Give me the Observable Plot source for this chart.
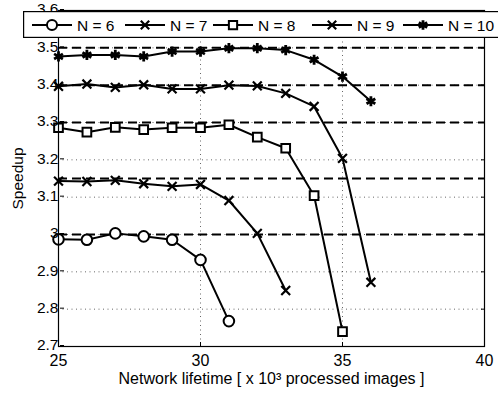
<!DOCTYPE html>
<html>
<head>
<meta charset="utf-8">
<script src="https://cdn.jsdelivr.net/npm/d3@7"></script>
<script src="https://cdn.jsdelivr.net/npm/@observablehq/plot@0.6"></script>
<style>
  html, body { margin: 0; padding: 0; background: #fff; overflow: hidden; }
  #wrap { position: relative; width: 498px; height: 397px; }
  svg { font-family: "Liberation Sans", Arial, Helvetica, sans-serif; }
</style>
</head>
<body>
<div id="wrap"></div>
<script>
// ---- data ----
const lifetime = [25, 26, 27, 28, 29, 30, 31, 32, 33, 34, 35, 36];
const seriesNames = ["N = 6", "N = 7", "N = 8", "N = 9", "N = 10"];
const speedupN6  = [2.987, 2.986, 3.003, 2.995, 2.986, 2.932, 2.768];
const speedupN7  = [3.143, 3.142, 3.145, 3.136, 3.129, 3.134, 3.091, 3.003, 2.850];
const speedupN8  = [3.286, 3.274, 3.287, 3.281, 3.286, 3.286, 3.294, 3.261, 3.231, 3.104, 2.740];
const speedupN9  = [3.397, 3.403, 3.394, 3.401, 3.390, 3.390, 3.400, 3.398, 3.378, 3.343, 3.204, 2.872];
const speedupN10 = [3.477, 3.481, 3.481, 3.477, 3.490, 3.490, 3.499, 3.499, 3.494, 3.468, 3.423, 3.357];
const idealSpeedup = [3.0, 3.15, 3.3, 3.4, 3.5];
const xTicks = [25, 30, 35, 40];
const yTicks = [2.7, 2.8, 2.9, 3.0, 3.1, 3.2, 3.3, 3.4, 3.5, 3.6];
const markerSymbols = ["circle", "times", "square", "times", "asterisk"];

const allSeries = [speedupN6, speedupN7, speedupN8, speedupN9, speedupN10];
const rows = [];
allSeries.forEach((vals, i) => vals.forEach((v, j) => rows.push({series: seriesNames[i], x: lifetime[j], y: v})));

const markerStyle = {
  circle:   {r: 5.3, strokeWidth: 2},
  times:    {r: 4.1, strokeWidth: 2.2},
  square:   {r: 4.9, strokeWidth: 2},
  asterisk: {r: 4.8, strokeWidth: 2.8}
};

const dotMarks = seriesNames.map((name, i) => {
  const sym = markerSymbols[i];
  return Plot.dot(rows.filter(d => d.series === name), {
    x: "x", y: "y", symbol: () => sym, r: markerStyle[sym].r,
    stroke: "black", fill: "white", strokeWidth: markerStyle[sym].strokeWidth
  });
});

const chart = Plot.plot({
  width: 498, height: 397,
  marginLeft: 58, marginRight: 14, marginTop: 10, marginBottom: 51,
  style: {fontFamily: "Liberation Sans, Arial, sans-serif", fontSize: "15px", background: "white", color: "black", overflow: "visible"},
  x: {domain: [25, 40]},
  y: {domain: [2.7, 3.6]},
  symbol: {type: "identity"},
  marks: [
    Plot.gridX(xTicks, {stroke: "black", strokeOpacity: 0.6, strokeDasharray: "1,3.5"}),
    Plot.gridY(yTicks, {stroke: "black", strokeOpacity: 0.6, strokeDasharray: "1,3.5"}),
    Plot.ruleY(idealSpeedup, {stroke: "black", strokeWidth: 2, strokeDasharray: "9,5"}),
    Plot.line(rows, {x: "x", y: "y", z: "series", stroke: "black", strokeWidth: 2}),
    ...dotMarks,
    Plot.frame({stroke: "black", strokeWidth: 1.2}),
    Plot.axisX({ticks: xTicks, tickFormat: d => String(d), tickSize: -4, tickPadding: 12, fontSize: 16,
      label: "Network lifetime [ x 10³ processed images ]", labelAnchor: "center", labelArrow: "none", labelOffset: 37}),
    Plot.axisY({ticks: yTicks, tickFormat: d => String(+d.toFixed(1)), tickSize: -4, tickPadding: 6, fontSize: 15.5, dx: 2, dy: -1,
      label: "Speedup", labelAnchor: "center", labelArrow: "none", labelOffset: 47}),
    Plot.axisY({anchor: "right", ticks: yTicks, tickFormat: () => "", tickSize: -4, label: null})
  ]
});

const wrap = document.getElementById("wrap");
wrap.appendChild(chart);

// ---- legend (overlay box like the original) ----
const legendStarts = [9, 102, 190, 289, 380];
const legendW = 480, legendH = 27;
const leg = d3.create("svg").attr("width", legendW).attr("height", legendH)
  .style("position", "absolute").style("left", "23px").style("top", "11px");
leg.append("rect").attr("x", 0.6).attr("y", 0.6).attr("width", legendW + 5).attr("height", legendH - 1.2)
  .attr("fill", "white").attr("stroke", "black").attr("stroke-width", 1.2);
const d3sym = {circle: d3.symbolCircle, times: d3.symbolTimes, square: d3.symbolSquare, asterisk: d3.symbolAsterisk};
seriesNames.forEach((name, i) => {
  const s = legendStarts[i], cy = 14;
  const sym = markerSymbols[i];
  const g = leg.append("g");
  g.append("line").attr("x1", s).attr("x2", s + 40).attr("y1", cy).attr("y2", cy)
    .attr("stroke", "black").attr("stroke-width", 2);
  const r = markerStyle[sym].r * 0.95;
  g.append("path").attr("transform", `translate(${s + 20},${cy})`)
    .attr("d", d3.symbol(d3sym[sym], Math.PI * r * r)())
    .attr("fill", "white").attr("stroke", "black").attr("stroke-width", markerStyle[sym].strokeWidth);
  g.append("text").attr("x", s + 45).attr("y", cy).attr("dy", "0.36em")
    .attr("font-size", 15.5).attr("fill", "black").text(name);
});
wrap.appendChild(leg.node());
</script>
</body>
</html>
